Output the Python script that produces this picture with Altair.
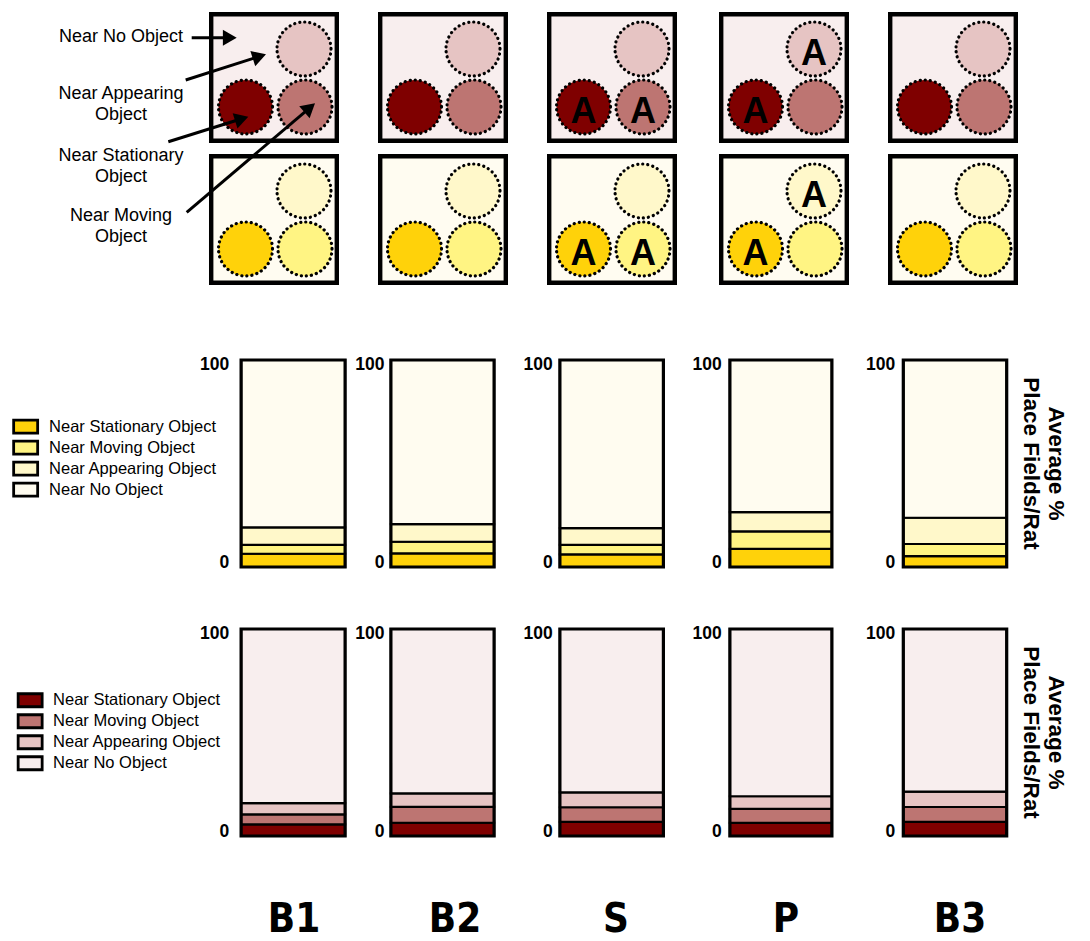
import math
import altair as alt
import pandas as pd

# ---------------- data ----------------
conditions = ["B1", "B2", "S", "P", "B3"]
categories = ["Near Stationary Object", "Near Moving Object",
              "Near Appearing Object", "Near No Object"]

# Average % place fields / rat (upper = yellow, lower = red)
yellow_stationary = [6.4, 6.6, 6.1, 8.8, 5.3]
yellow_moving = [4.3, 5.6, 4.6, 8.4, 5.8]
yellow_appearing = [8.4, 8.5, 8.1, 9.3, 12.7]
red_stationary = [5.6, 6.4, 6.8, 6.3, 6.8]
red_moving = [4.8, 7.7, 7.1, 6.8, 7.2]
red_appearing = [5.5, 6.5, 7.2, 6.1, 7.4]

tick_values = [0, 100]
y_title = "Average %\nPlace Fields/Rat"

annotation_texts = ["Near No Object", "Near Appearing\nObject",
                    "Near Stationary\nObject", "Near Moving\nObject"]

# "A" markers in the arena diagrams: (condition, arena row, object)
a_markers = [("S", "red", "stationary"), ("S", "red", "moving"),
             ("S", "yellow", "stationary"), ("S", "yellow", "moving"),
             ("P", "red", "appearing"), ("P", "red", "stationary"),
             ("P", "yellow", "appearing"), ("P", "yellow", "stationary")]

# ---------------- styles ----------------
yellow_colors = ["#FFD20A", "#FFF483", "#FFF8CA", "#FFFCF0"]
red_colors = ["#7F0000", "#BD7572", "#E6C4C3", "#F8EEEE"]
arena_fill = {"red": "#F8EEEE", "yellow": "#FFFCF1"}
object_fill = {
    "red": {"stationary": "#7F0000", "moving": "#BD7572", "appearing": "#E6C4C3"},
    "yellow": {"stationary": "#FFD20A", "moving": "#FFF483", "appearing": "#FFF8CA"},
}
FONT = "Liberation Sans"
NARROW = "Liberation Sans Narrow, DejaVu Sans Condensed, Liberation Sans"

# ---------------- layout ----------------
W = 1072
X_DOM = [8, 8 + W]
H_TOP, H_BAR, H_LAB = 290, 207, 43
SPACING = 62
TOP_Y0 = 8
LAB_Y0 = 8 + H_TOP + 3 * SPACING + 2 * H_BAR

SQ_LEFT = [209, 378, 547, 719, 888]
SQ_TOP = {"red": 12, "yellow": 154}
SQ_W, SQ_H, SQ_STROKE = 130, 131, 4.4
CIRCLE_REL = {"appearing": (95, 37), "stationary": (36.5, 95), "moving": (96, 95)}
CIRCLE_D = 54

BAR_L = [239.5, 389.3, 558.3, 728.3, 901.7]
BAR_R = [346.7, 495.7, 665.0, 833.5, 1008.3]
BAR_STROKE = 3.2
TICK_RIGHT = [229.3, 384.5, 552.7, 721.7, 895.3]
TITLE_X = 1056
LABEL_X = [294, 455, 616, 786, 960]
LABEL_BASELINE = 932

ANN_X = 121
ANN_BASELINE = [41.5, 99, 161, 221]
ARROW_START = [(191.7, 37.7), (185.7, 80.0), (168.3, 141.7), (186.7, 212.3)]
ARROW_TIP = [(236.7, 37.7), (266.0, 54.3), (248.3, 116.7), (315.0, 103.3)]
HEAD_R = 8

xs = alt.Scale(domain=X_DOM, nice=False, zero=False)

# ---------------- top row: arena diagrams ----------------
ys_top = alt.Scale(domain=[TOP_Y0, TOP_Y0 + H_TOP], nice=False, zero=False, reverse=True)
half = SQ_STROKE / 2
sq_rows, circ_rows, a_rows = [], [], []
for ci, cond in enumerate(conditions):
    for row in ["red", "yellow"]:
        left, top = SQ_LEFT[ci], SQ_TOP[row]
        sq_rows.append({"x": left + half, "x2": left + SQ_W - half,
                        "y": top + half, "y2": top + SQ_H - half,
                        "fill": arena_fill[row]})
        for obj, (rx, ry) in CIRCLE_REL.items():
            circ_rows.append({"x": left + rx, "y": top + ry,
                              "fill": object_fill[row][obj]})
for cond, row, obj in a_markers:
    ci = conditions.index(cond)
    rx, ry = CIRCLE_REL[obj]
    a_rows.append({"x": SQ_LEFT[ci] + rx, "y": SQ_TOP[row] + ry, "t": "A"})

ann_df = pd.DataFrame({"x": [ANN_X] * 4, "y": ANN_BASELINE, "t": annotation_texts})
arrow_rows, head_rows = [], []
h = HEAD_R * math.sqrt(3) / 2
for (x0, y0), (x1, y1) in zip(ARROW_START, ARROW_TIP):
    L = math.hypot(x1 - x0, y1 - y0)
    ux, uy = (x1 - x0) / L, (y1 - y0) / L
    cx, cy = x1 - h * ux, y1 - h * uy
    arrow_rows.append({"x": x0, "y": y0, "x2": cx, "y2": cy})
    ang = math.degrees(math.atan2(uy, ux)) % 360
    head_rows.append({"x": cx, "y": cy, "angle": ang})

X = alt.X("x:Q", scale=xs, axis=None)
Ytop = alt.Y("y:Q", scale=ys_top, axis=None)

squares = alt.Chart(pd.DataFrame(sq_rows)).mark_rect(
    stroke="black", strokeWidth=SQ_STROKE).encode(
    x=X, x2="x2:Q", y=Ytop, y2="y2:Q", fill=alt.Fill("fill:N", scale=None))
circles = alt.Chart(pd.DataFrame(circ_rows)).mark_point(
    shape="circle", filled=True, size=CIRCLE_D ** 2, opacity=1,
    stroke="black", strokeWidth=3.2, strokeDash=[0.1, 5.0], strokeCap="round").encode(
    x=X, y=Ytop, fill=alt.Fill("fill:N", scale=None))
a_text = alt.Chart(pd.DataFrame(a_rows)).mark_text(
    font=FONT, fontSize=36, fontWeight="bold", align="center",
    baseline="alphabetic", dy=16, color="black").encode(x=X, y=Ytop, text="t:N")
ann = alt.Chart(ann_df).mark_text(
    font=FONT, fontSize=18, align="center", baseline="alphabetic",
    lineBreak="\n", lineHeight=21, color="black").encode(x=X, y=Ytop, text="t:N")
arrows = alt.Chart(pd.DataFrame(arrow_rows)).mark_rule(
    strokeWidth=3, color="black").encode(x=X, y=Ytop, x2="x2:Q", y2="y2:Q")
heads = alt.Chart(pd.DataFrame(head_rows)).mark_point(
    shape="triangle-right", filled=True, size=(2 * HEAD_R) ** 2, opacity=1,
    color="black").encode(x=X, y=Ytop, angle=alt.Angle("angle:Q", scale=None))

top_row = alt.layer(squares, circles, a_text, arrows, heads, ann).properties(
    width=W, height=H_TOP)

# ---------------- bar rows ----------------
ys_bar = alt.Scale(domain=[0, 100], nice=False, zero=True)


def bar_row(stat, mov, app, colors, lx, ly, loff):
    rows, frames, ticks = [], [], []
    sh = BAR_STROKE / 2
    for i, cond in enumerate(conditions):
        vals = [stat[i], mov[i], app[i]]
        vals.append(100 - sum(vals))
        cum = 0.0
        for k, (cat, v) in enumerate(zip(categories, vals)):
            rows.append({"cond": cond, "category": cat, "x": BAR_L[i] + sh,
                         "x2": BAR_R[i] - sh, "y": cum, "y2": cum + v})
            cum += v
        frames.append({"x": BAR_L[i] + sh, "x2": BAR_R[i] - sh, "y": 0, "y2": 100})
        for tv in tick_values:
            ticks.append({"x": TICK_RIGHT[i], "y": tv, "t": str(tv)})
    tdf = pd.DataFrame(ticks)
    Xb = alt.X("x:Q", scale=xs, axis=None)
    Yb = alt.Y("y:Q", scale=ys_bar, axis=None)
    bars = alt.Chart(pd.DataFrame(rows)).mark_rect(
        stroke="black", strokeWidth=2.2).encode(
        x=Xb, x2="x2:Q", y=Yb, y2="y2:Q",
        color=alt.Color("category:N",
                        scale=alt.Scale(domain=categories, range=colors),
                        legend=alt.Legend(
                            orient="none", legendX=lx, legendY=ly, title=None,
                            symbolType="M-2,-1.08H2V1.08H-2Z", symbolSize=144,
                            symbolStrokeColor="black", symbolStrokeWidth=2.8,
                            labelFont=FONT, labelFontSize=16.5, labelColor="black",
                            labelOffset=loff, rowPadding=-4.8, padding=0,
                            labelLimit=400)))
    frame = alt.Chart(pd.DataFrame(frames)).mark_rect(
        fillOpacity=0, stroke="black", strokeWidth=BAR_STROKE).encode(
        x=Xb, x2="x2:Q", y=Yb, y2="y2:Q")
    t100 = alt.Chart(tdf[tdf.y == 100]).mark_text(
        font=FONT, fontSize=17.5, fontWeight="bold", align="right",
        baseline="alphabetic", dy=10, color="black").encode(x=Xb, y=Yb, text="t:N")
    t0 = alt.Chart(tdf[tdf.y == 0]).mark_text(
        font=FONT, fontSize=17.5, fontWeight="bold", align="right",
        baseline="alphabetic", dy=0.5, color="black").encode(x=Xb, y=Yb, text="t:N")
    title = alt.Chart(pd.DataFrame({"x": [TITLE_X], "y": [50], "t": [y_title]})).mark_text(
        font=FONT, fontSize=22.5, fontWeight="bold", angle=90, align="center",
        baseline="middle", lineBreak="\n", lineHeight=25, color="black").encode(
        x=Xb, y=Yb, text="t:N")
    return alt.layer(bars, frame, t100, t0, title).properties(width=W, height=H_BAR)


yellow_row = bar_row(yellow_stationary, yellow_moving, yellow_appearing,
                     yellow_colors, 9.4, 58.4, 15.2)
red_row = bar_row(red_stationary, red_moving, red_appearing,
                  red_colors, 13.9, 63.0, 14.7)

# ---------------- condition labels ----------------
ys_lab = alt.Scale(domain=[LAB_Y0, LAB_Y0 + H_LAB], nice=False, zero=False, reverse=True)
lab_df = pd.DataFrame({"x": LABEL_X, "y": [LABEL_BASELINE] * 5, "t": conditions})
labels = alt.Chart(lab_df).mark_text(
    font=NARROW, fontSize=40, fontWeight="bold", align="center",
    baseline="alphabetic", color="black").encode(
    x=alt.X("x:Q", scale=xs, axis=None),
    y=alt.Y("y:Q", scale=ys_lab, axis=None), text="t:N").properties(width=W, height=H_LAB)

chart = alt.vconcat(top_row, yellow_row, red_row, labels, spacing=SPACING,
                    bounds="flush").resolve_scale(
    x="independent", y="independent", color="independent").properties(
    padding=0).configure_view(strokeOpacity=0)

chart.save("out.html", embed_options={"renderer": "svg", "actions": False})
